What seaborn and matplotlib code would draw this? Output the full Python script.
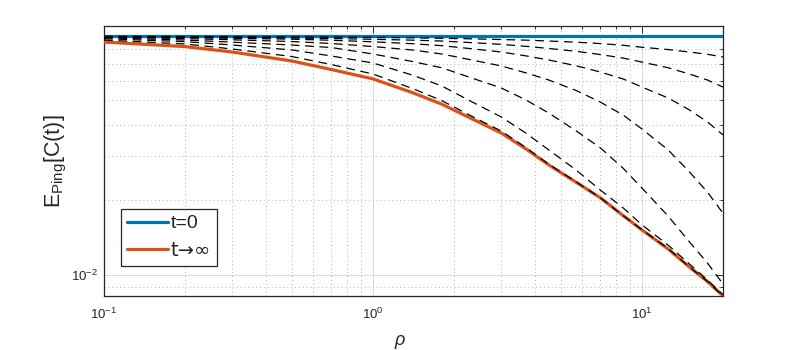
import matplotlib
matplotlib.use("Agg")
import matplotlib.pyplot as plt
import seaborn as sns
import numpy as np
import pandas as pd
from matplotlib.ticker import LogLocator, NullFormatter, LogFormatterSciNotation
from matplotlib.lines import Line2D

# ---- data ----
rho = [0.1, 0.2, 0.3, 0.5, 0.7, 1.0, 1.4, 1.8, 2.3, 3.0,
       3.7, 4.5, 5.7, 7.0, 8.5, 10.0, 12.5, 15.0, 17.5, 20.0]

t_zero = [0.0904] * len(rho)
t_inf = [0.0855, 0.0820, 0.0780, 0.0718, 0.0664, 0.0609, 0.0537, 0.0483, 0.0425, 0.0370,
         0.0320, 0.0276, 0.0235, 0.0204, 0.01733, 0.01517, 0.01274, 0.01079, 0.00945, 0.00827]

dash_a = [0.0901, 0.0900, 0.0898, 0.0896, 0.0895, 0.0892, 0.0889, 0.0885, 0.0881, 0.0875,
          0.0870, 0.0863, 0.0854, 0.0843, 0.0830, 0.0815, 0.0798, 0.0780, 0.0764, 0.0745]
dash_b = [0.0900, 0.08955, 0.0892, 0.0887, 0.0883, 0.0877, 0.0870, 0.0863, 0.0851, 0.0837,
          0.0822, 0.0806, 0.0785, 0.0762, 0.0738, 0.0711, 0.0675, 0.0637, 0.0603, 0.0565]
dash_c = [0.0897, 0.0891, 0.0885, 0.0878, 0.0869, 0.0857, 0.0842, 0.0827, 0.0805, 0.0780,
          0.0753, 0.0725, 0.0687, 0.0649, 0.0609, 0.0565, 0.0511, 0.0458, 0.0410, 0.0364]
dash_d = [0.0894, 0.0883, 0.0873, 0.0859, 0.0844, 0.0820, 0.0795, 0.0766, 0.0727, 0.0686,
          0.0644, 0.0603, 0.0547, 0.0492, 0.0437, 0.0384, 0.0317, 0.0259, 0.0215, 0.0177]
dash_e = [0.0889, 0.0871, 0.0854, 0.0832, 0.0813, 0.0766, 0.0715, 0.0675, 0.0617, 0.0560,
          0.0502, 0.0445, 0.0377, 0.0323, 0.0268, 0.0223, 0.01725, 0.0136, 0.0112, 0.00923]
dash_f = [0.0882, 0.0858, 0.0832, 0.0795, 0.0752, 0.0705, 0.0631, 0.0571, 0.0497, 0.0429,
          0.0370, 0.0317, 0.0263, 0.0219, 0.0186, 0.0159, 0.0132, 0.0111, 0.00958, 0.00835]
dash_g = [0.0871, 0.0840, 0.0802, 0.0748, 0.0695, 0.0637, 0.0558, 0.0499, 0.0435, 0.0377,
          0.0324, 0.0278, 0.0236, 0.0204, 0.01733, 0.0152, 0.0128, 0.0108, 0.00945, 0.00827]
dashed = [dash_a, dash_b, dash_c, dash_d, dash_e, dash_f, dash_g]

legend_labels = ["t=0", "t\u2192\u221e"]
x_label = "\u03c1"
y_label = r"E$_{\mathrm{Ping}}$[C(t)]"

# ---- style ----
sns.set_theme(style="white")
plt.rcParams["font.family"] = ["Liberation Sans", "DejaVu Sans"]
plt.rcParams["mathtext.fontset"] = "custom"
plt.rcParams["mathtext.rm"] = "Liberation Sans"
plt.rcParams["mathtext.it"] = "Liberation Sans:italic"
plt.rcParams["mathtext.bf"] = "Liberation Sans:bold"

blue = "#0072BD"
orange = "#D95319"
axis_col = "#262626"

fig = plt.figure(figsize=(8, 3.5), dpi=100)
ax = fig.add_axes([104 / 800, 54 / 350, 619 / 800, 270 / 350])

ax.set_xscale("log")
ax.set_yscale("log")

sns.lineplot(x=rho, y=t_zero, ax=ax, color=blue, linewidth=2.3, zorder=3, legend=False)
sns.lineplot(x=rho, y=t_inf, ax=ax, color=orange, linewidth=2.3, zorder=3, legend=False)
for d in dashed:
    sns.lineplot(x=rho, y=d, ax=ax, color="black", linewidth=0.9, zorder=4,
                 dashes=False, legend=False)
for ln in ax.lines[2:]:
    ln.set_dashes((7, 4.5))

ax.set_xlim(0.1, 20)
ax.set_ylim(0.008264, 0.0991)

# ticks
ax.xaxis.set_major_locator(LogLocator(base=10, numticks=10))
ax.xaxis.set_minor_locator(LogLocator(base=10, subs=np.arange(2, 10), numticks=20))
ax.yaxis.set_major_locator(LogLocator(base=10, numticks=10))
ax.yaxis.set_minor_locator(LogLocator(base=10, subs=np.arange(2, 10), numticks=20))
ax.xaxis.set_major_formatter(LogFormatterSciNotation())
ax.yaxis.set_major_formatter(LogFormatterSciNotation())
ax.xaxis.set_minor_formatter(NullFormatter())
ax.yaxis.set_minor_formatter(NullFormatter())

ax.tick_params(which="both", direction="in", top=True, right=True,
               colors=axis_col, labelcolor=axis_col, width=0.7)
ax.tick_params(which="major", length=5, labelsize=9.5)
ax.tick_params(which="minor", length=2.5)
ax.tick_params(axis="x", which="major", pad=8)
ax.tick_params(axis="y", which="major", pad=4)

for s in ax.spines.values():
    s.set_visible(True)
    s.set_color(axis_col)
    s.set_linewidth(0.9)

ax.set_axisbelow(True)
ax.grid(which="major", color="#dcdcdc", linestyle="-", linewidth=0.8)
ax.grid(which="minor", color="#b5b5b5", linestyle=(0, (1, 3)), linewidth=0.7)

ax.set_xlabel(x_label, fontsize=13, style="italic", color=axis_col)
ax.xaxis.set_label_coords(0.478, -0.135)
ax.set_ylabel(y_label, fontsize=15.5, color=axis_col, labelpad=2)

handles = [Line2D([0], [0], color=blue, lw=2.3), Line2D([0], [0], color=orange, lw=2.3)]
leg = ax.legend(handles, legend_labels, loc="lower left", bbox_to_anchor=(0.0275, 0.111),
                borderaxespad=0, fontsize=14, frameon=True, fancybox=False,
                edgecolor=axis_col, framealpha=1, handlelength=2.1,
                handletextpad=0.15, borderpad=0.3, labelspacing=0.45)
leg.get_frame().set_linewidth(0.9)
leg.get_texts()[1].set_fontfamily(["DejaVu Sans"])

fig.savefig("out.png", dpi=100, facecolor="white")
